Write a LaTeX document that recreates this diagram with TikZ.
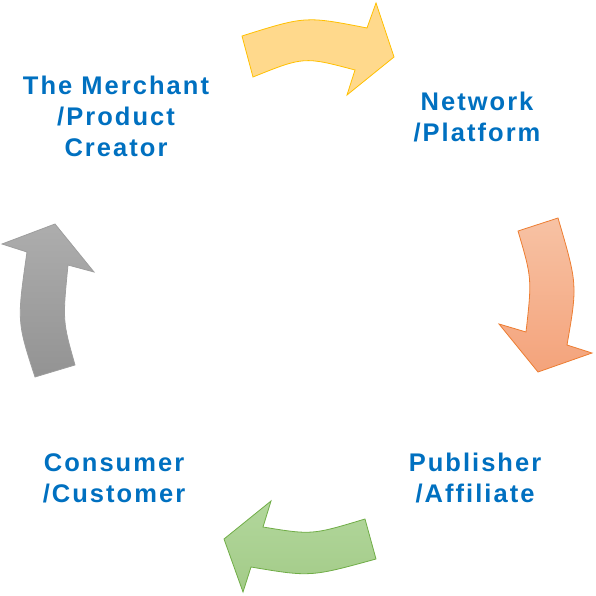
\documentclass[tikz,border=0pt]{standalone}
\usepackage{fontspec}
\setmainfont[LetterSpace=8]{Liberation Sans}
\usetikzlibrary{positioning}
\definecolor{lblue}{HTML}{0070C0}
\definecolor{yelfill}{HTML}{FFD98C}
\definecolor{yeldraw}{HTML}{FFC000}
\definecolor{orgtop}{HTML}{F7C2A4}
\definecolor{orgbot}{HTML}{F4A37B}
\definecolor{orgdraw}{HTML}{ED7D31}
\definecolor{grntop}{HTML}{B2D79C}
\definecolor{grnbot}{HTML}{A3CB88}
\definecolor{grndraw}{HTML}{70AD47}
\definecolor{grytop}{HTML}{ADADAD}
\definecolor{grybot}{HTML}{939393}

\begin{document}
\begin{tikzpicture}[x=1pt,y=-1pt,
  lbl/.style={font=\bfseries\fontsize{25.5}{31}\selectfont,text=lblue,align=center,inner sep=0pt},
  blk/.style={line width=0.8pt,line join=miter}]
\useasboundingbox (0,0) rectangle (596,596);
% labels
\node[lbl] (merchant) at (116,116) {The Merchant\\/Product\\Creator};
\node[lbl] (network) at (477,117) {Network\\/Platform};
\node[lbl] (publisher) at (475,478) {Publisher\\/Affiliate};
\node[lbl] (consumer) at (114,478) {Consumer\\/Customer};
% merchant -> network
\path[blk,draw=yeldraw,fill=yelfill]
  (242,36) .. controls (305.5,16) .. (367,28) -- (376,3) -- (394,57) -- (347,95)
  -- (355,70) .. controls (304,56.5) .. (253,77) -- cycle;
% network -> publisher
\path[blk,draw=orgdraw,top color=orgtop,bottom color=orgbot]
  (558,218) .. controls (577.5,284.5) .. (567,345) -- (592,353) -- (538,372) -- (499,324)
  -- (526,332) .. controls (532,278.5) .. (518,231) -- cycle;
% publisher -> consumer
\path[blk,draw=grndraw,top color=grntop,bottom color=grnbot]
  (376,559) .. controls (310.5,577) .. (251,567) -- (243,592) -- (224,539) -- (271,501)
  -- (263,527) .. controls (312,535) .. (365,519) -- cycle;
% consumer -> merchant
\path[blk,draw=grybot!90!white,top color=grytop,bottom color=grybot]
  (35,377) -- (75,365) .. controls (62.5,321) .. (68,265) -- (94,272) -- (55,224)
  -- (2,244) -- (27,252) .. controls (17,321.5) .. (35,377) -- cycle;
\end{tikzpicture}
\end{document}
